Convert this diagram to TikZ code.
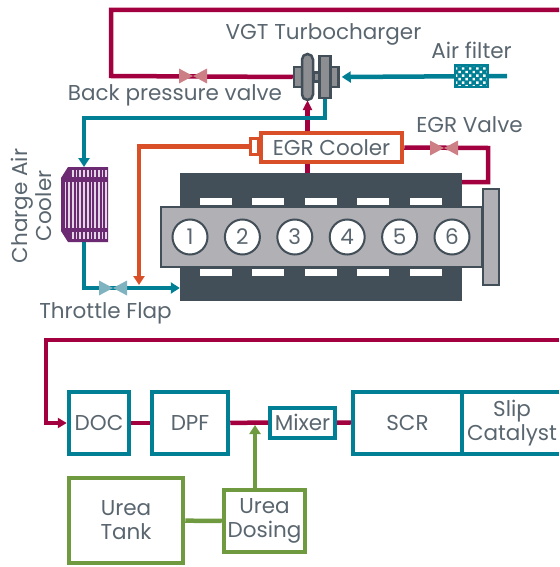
\documentclass[tikz,border=0pt]{standalone}
\usepackage{fontspec}
\setmainfont{Poppins}
\usetikzlibrary{arrows.meta, patterns.meta}

\definecolor{exhaustred}{HTML}{A3003F}
\definecolor{chargeblue}{HTML}{007F95}
\definecolor{egrorange}{HTML}{D94F27}
\definecolor{ureagreen}{HTML}{6F9A3F}
\definecolor{coolerpurple}{HTML}{6B2A72}
\definecolor{coolerbar}{HTML}{E2D5E4}
\definecolor{slate}{HTML}{424E58}
\definecolor{labelgrey}{HTML}{5A666F}
\definecolor{blockgrey}{HTML}{B1B0B5}
\definecolor{turbogrey}{HTML}{8C8E92}
\definecolor{redvalve}{HTML}{CC8085}
\definecolor{bluevalve}{HTML}{7FB3C0}

\tikzset{
  label text/.style={text=labelgrey, font=\fontsize{21.5}{24}\selectfont, align=center, inner sep=0pt},
  exhaust/.style={draw=exhaustred, line width=4.5pt},
  charge/.style={draw=chargeblue, line width=4.5pt},
  recirc/.style={draw=egrorange, line width=4.5pt},
  urea/.style={draw=ureagreen, line width=4.5pt},
  tip/.style={-{Triangle[length=9pt, width=11pt]}},
  stage/.style={label text, draw=chargeblue, fill=white, line width=4.5pt, minimum height=62pt},
  ureabox/.style={label text, draw=ureagreen, fill=white, line width=4.5pt},
  turbopart/.style={draw=slate, fill=turbogrey, line width=2.5pt, inner sep=0pt},
  slot/.style={fill=white, inner sep=0pt, minimum width=32pt, minimum height=7pt},
  cylinder/.style={label text, circle, draw=slate, fill=white, line width=2pt, minimum size=35pt},
  valve/.pic={\fill[pic actions] (-14,-7.5) -- (14,7.5) -- (14,-7.5) -- (-14,7.5) -- cycle;}
}

\begin{document}
\begin{tikzpicture}[x=1pt, y=-1pt]
  \useasboundingbox (0,0) rectangle (559,567);
  % Engine
  \node[fill=slate, inner sep=0pt, minimum width=282pt, minimum height=128pt] (Block) at (321,237) {};
  \node[draw=slate, fill=blockgrey, line width=2pt, inner sep=0pt, minimum width=321pt, minimum height=60pt] (Head) at (321.5,237) {};
  \node[draw=slate, fill=blockgrey, line width=2pt, inner sep=0pt, minimum width=16pt, minimum height=96pt] (Flange) at (491,237) {};
  \foreach \n in {1,...,6}
    \node[cylinder] (cyl\n) at ({137.6+52.4*\n},237) {\n};
  \foreach \n in {1,...,5} {
    \node[slot] at ({163.6+52.4*\n},201.5) {};
    \node[slot] at ({163.6+52.4*\n},272.5) {};
  }
  % Turbocharger
  \node[turbopart, minimum width=8pt, minimum height=20pt] (TurbineCase) at (298,77) {};
  \node[turbopart, minimum width=8pt, minimum height=20pt] (CompressorCase) at (334.5,77) {};
  \node[turbopart, minimum width=6pt, minimum height=9pt] (Shaft) at (316.5,77) {};
  \node[turbopart, minimum width=11pt, minimum height=46pt, rounded corners=5.5pt] (Turbine) at (307.5,77) {};
  \node[turbopart, minimum width=11pt, minimum height=42pt] (Compressor) at (325,77) {};
  % Exhaust side
  \coordinate (ExhaustOut) at (559,10);
  \coordinate (BackValve) at (193,76);
  \draw[exhaust] (ExhaustOut) -| (111,76) -- (TurbineCase.west);
  \pic[fill=redvalve] at (BackValve) {valve};
  \draw[exhaust, -{Triangle[length=10pt, width=9pt]}] (Block.north -| Turbine.south) -- ([yshift=1pt]Turbine.south);
  % Air side
  \coordinate (AirIn) at (507,76);
  \coordinate (CoolerTop) at (84,167);
  \coordinate (CoolerBottom) at (84,242);
  \coordinate (Throttle) at (113,288);
  \draw[charge, tip] (AirIn) -- ([xshift=2pt]CompressorCase.east);
  \node[draw=chargeblue, line width=1.5pt, preaction={fill=chargeblue}, pattern={Dots[angle=45, distance=5pt, radius=1.7pt]}, pattern color=white, inner sep=0pt, minimum width=33pt, minimum height=22pt] (Filter) at (471.5,76) {};
  \draw[charge, tip] (Compressor.south) -- ++(0,19) -| (CoolerTop);
  \draw[charge, tip] (CoolerBottom) |- (Block.west |- Throttle);
  \pic[fill=bluevalve] at (Throttle) {valve};
  % Charge air cooler
  \fill[coolerpurple] (68,167) -- (108,167) -- (108,242) -- (68,242) -- (61,231) -- (61,178) -- cycle;
  \foreach \n in {0,...,11} {
    \draw[coolerbar, line width=1.7pt] ({65.5+3.7*\n},182) -- ({65.5+3.7*\n},228);
  }
  \foreach \n in {0,...,9} {
    \draw[coolerbar, line width=1.7pt] ({72.9+3.7*\n},170) -- ({72.9+3.7*\n},177);
    \draw[coolerbar, line width=1.7pt] ({72.9+3.7*\n},232) -- ({72.9+3.7*\n},239);
  }
  % EGR loop
  \coordinate (EgrValve) at (444,148);
  \coordinate (EgrTee) at (488,148);
  \node[label text, draw=egrorange, fill=white, line width=4.5pt, minimum width=141pt, minimum height=29pt] (EgrCooler) at (331.5,147.5) {EGR Cooler};
  \node[draw=egrorange, fill=white, line width=3pt, inner sep=0pt, minimum width=8pt, minimum height=16pt] (EgrStub) at (254.5,146.5) {};
  \draw[exhaust] (EgrCooler.east) -- (EgrTee) |- (Block.east |- 0,182);
  \pic[fill=redvalve] at (EgrValve) {valve};
  \draw[recirc, tip] (EgrStub.west) -| (139,285);
  % Aftertreatment
  \node[stage, minimum width=60pt] (DOC) at (99,423) {DOC};
  \node[stage, minimum width=76pt] (DPF) at (190,423) {DPF};
  \node[label text, draw=chargeblue, fill=white, line width=4pt, minimum width=65pt, minimum height=30pt] (Mixer) at (302.5,422.5) {Mixer};
  \node[stage, minimum width=109pt] (SCR) at (407.5,423) {SCR};
  \node[label text] (Slip) at (512,423) {Slip\\Catalyst};
  \coordinate (SlipTop) at (559,392);
  \coordinate (SlipBottom) at (559,454);
  \draw[charge] (SlipTop) -- (SlipTop -| SCR.east) (SlipBottom -| SCR.east) -- (SlipBottom);
  \coordinate (TailIn) at (559,340);
  \draw[exhaust, -{Triangle[length=9pt, width=10pt]}] (TailIn) -| (46,423) -- (DOC.west);
  \draw[exhaust] (DOC) -- (DPF);
  \draw[exhaust] (DPF) -- (Mixer);
  \draw[exhaust] (Mixer) -- (SCR);
  % Urea
  \node[ureabox, minimum width=114pt, minimum height=85pt] (Tank) at (126,520.5) {Urea\\Tank};
  \node[ureabox, minimum width=81pt, minimum height=62pt] (Dosing) at (264.5,521) {Urea\\Dosing};
  \draw[urea] (Tank) -- (Dosing);
  \draw[urea, tip] (Dosing.north -| 255,0) -- (255,425);
  % Labels
  \node[label text] (TurboLabel) at (323.5,34) {VGT Turbocharger};
  \node[label text] (FilterLabel) at (471.5,50) {Air filter};
  \node[label text] (BackLabel) at (175,95) {Back pressure valve};
  \node[label text] (ValveLabel) at (469.5,125) {EGR Valve};
  \node[label text] (ThrottleLabel) at (105.5,313) {Throttle Flap};
  \node[label text, rotate=90] (CoolerLabel) at (31,206) {Charge Air\\Cooler};
\end{tikzpicture}
\end{document}
